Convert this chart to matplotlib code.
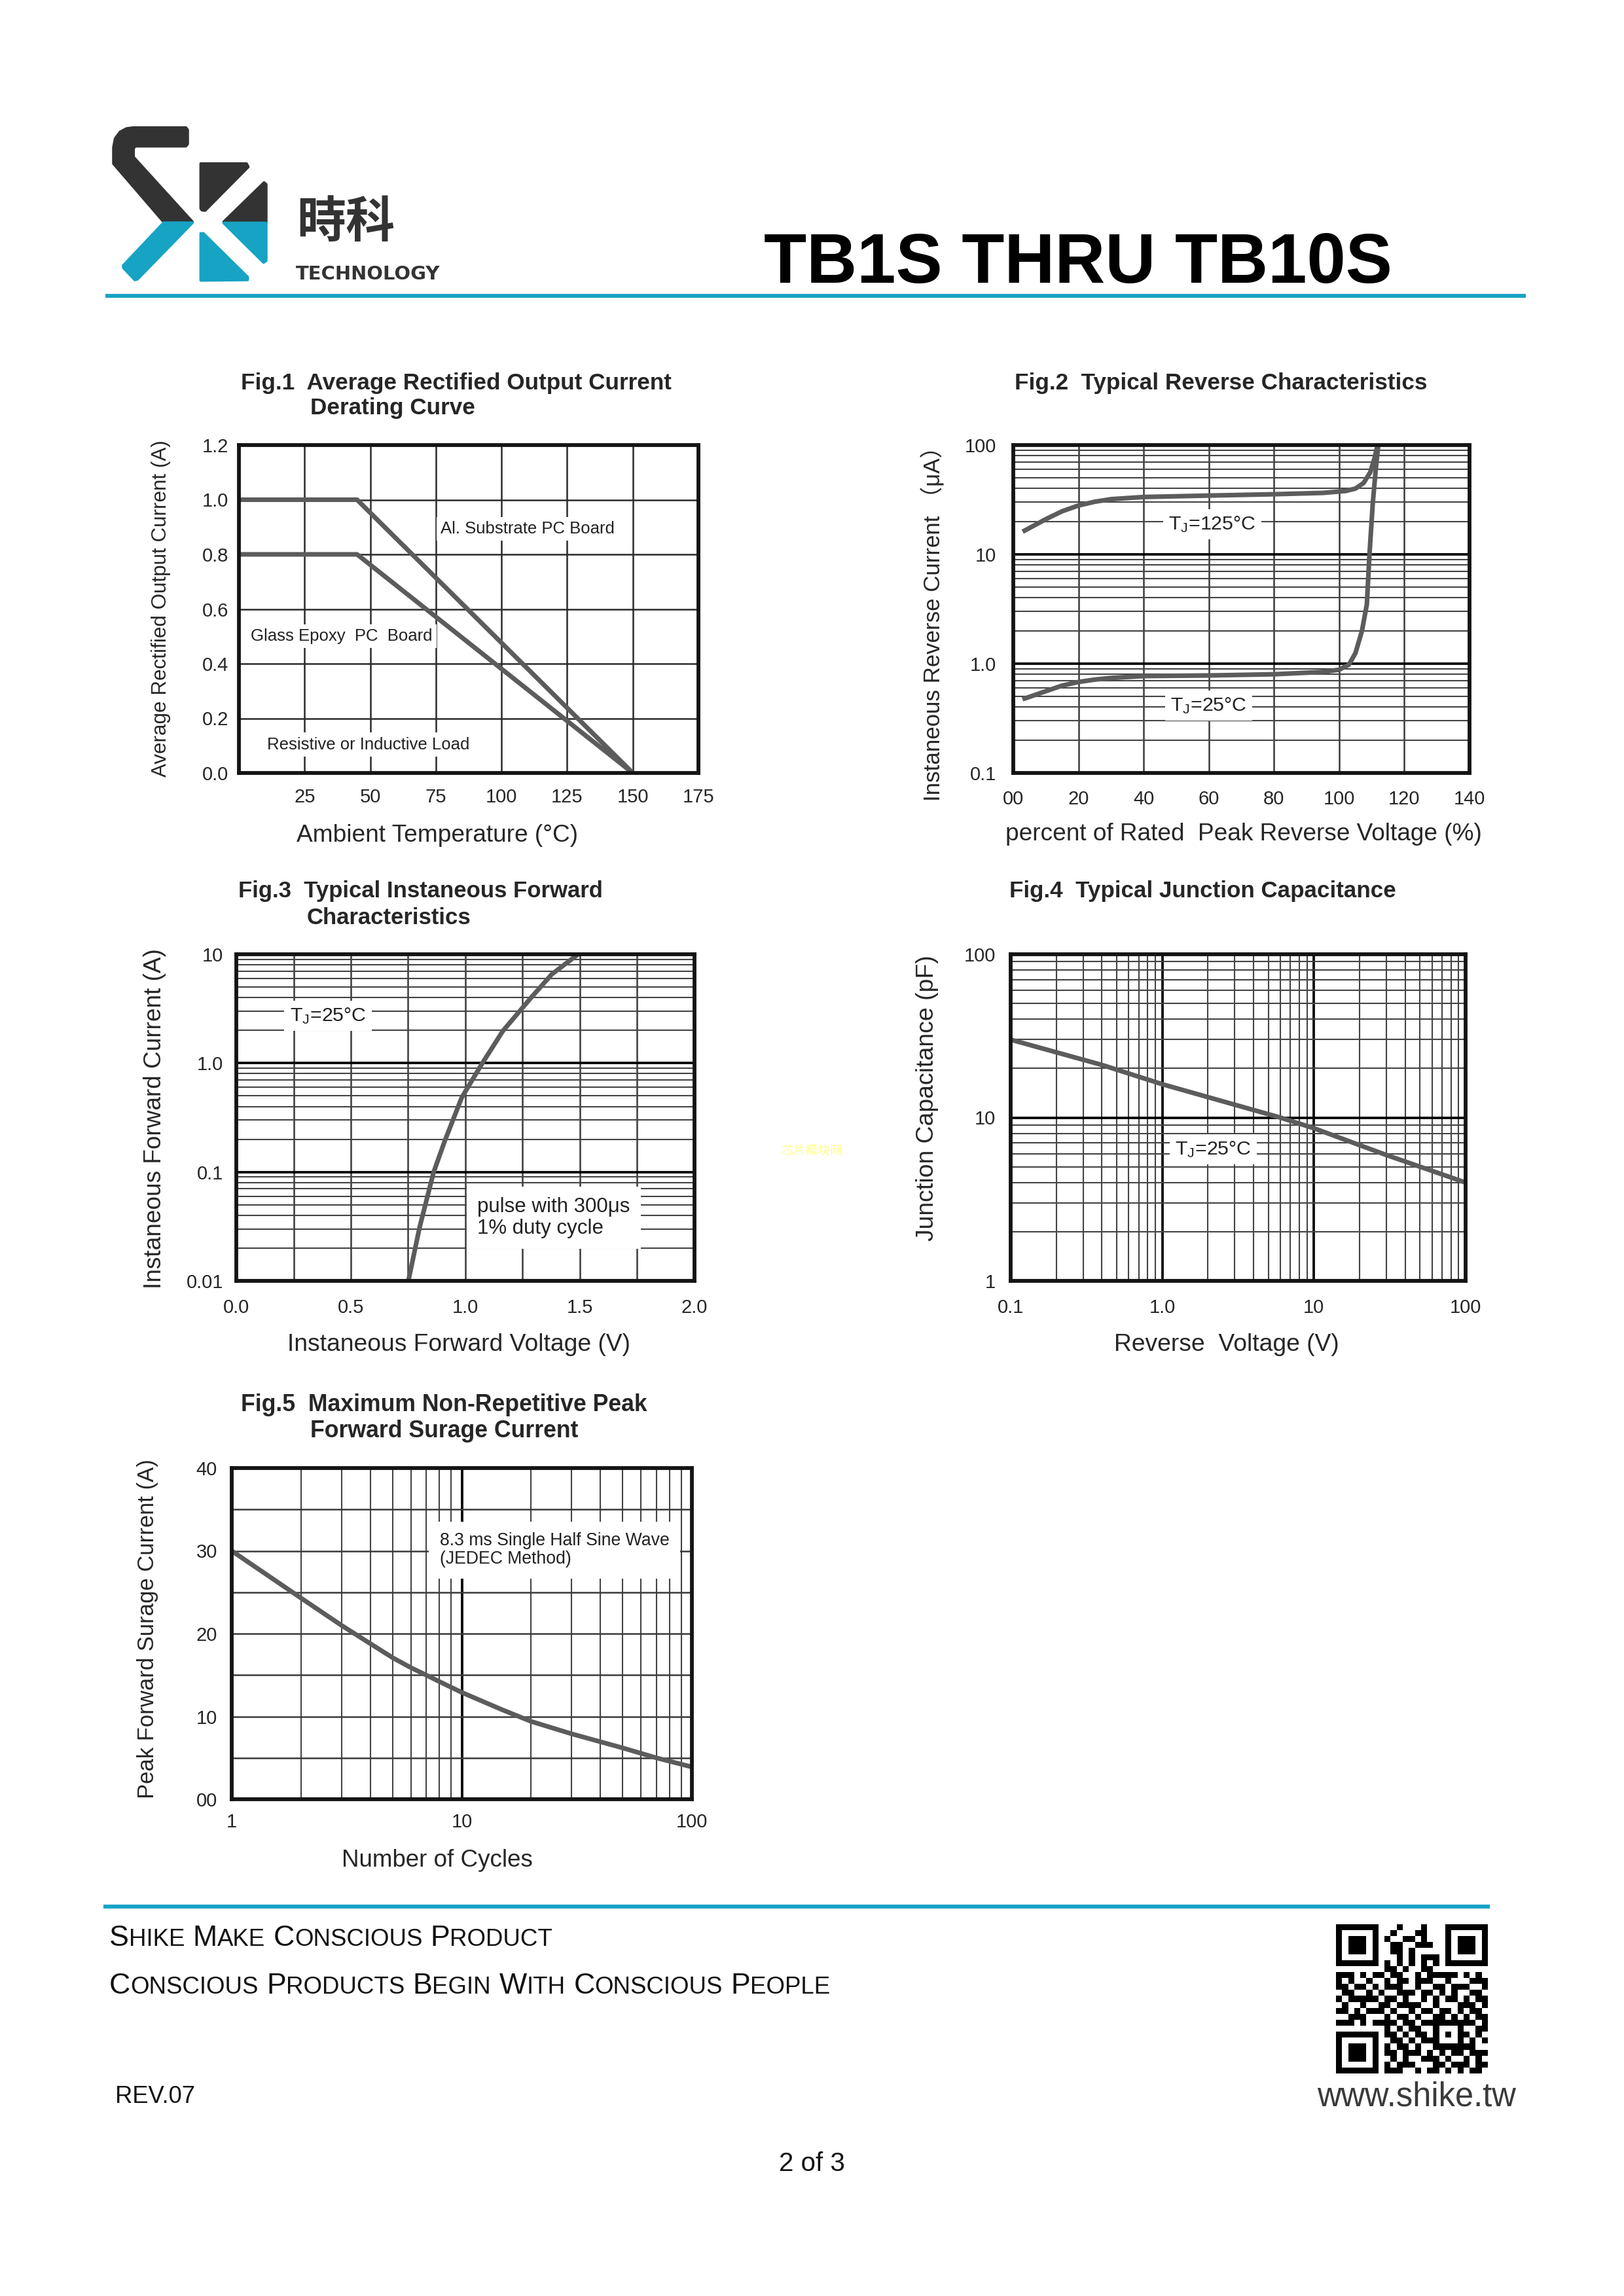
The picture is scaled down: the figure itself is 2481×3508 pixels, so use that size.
import numpy as np
import matplotlib
matplotlib.use('Agg')
import matplotlib.pyplot as plt
from matplotlib.patches import Polygon
from matplotlib.lines import Line2D
from matplotlib.ticker import LogLocator, NullFormatter, FixedLocator

# ---------------- data ----------------
# Fig.1 derating curve (ambient temperature degC -> average current A)
fig1_temp = [0, 45, 150]
fig1_al_board = [1.0, 1.0, 0.0]
fig1_glass_board = [0.8, 0.8, 0.0]
fig1_xticks = [25, 50, 75, 100, 125, 150, 175]
fig1_yticks = [0.0, 0.2, 0.4, 0.6, 0.8, 1.0, 1.2]

# Fig.2 typical reverse characteristics (% of rated voltage -> uA)
fig2_pct_125 = [3.5, 10, 15, 20, 25, 30, 40, 60, 80, 95, 102, 105, 107.5, 109.5, 110.8, 111.8]
fig2_ir_125 = [16.5, 21, 24.8, 28, 30.3, 32, 33.5, 34.5, 35.5, 36.5, 38, 40, 45, 56, 75, 100]
fig2_pct_25 = [3.5, 10, 15, 20, 25, 30, 40, 60, 80, 95, 100, 103, 105, 107, 108.5, 109.3, 110.3, 111.2, 112]
fig2_ir_25 = [0.48, 0.56, 0.63, 0.68, 0.715, 0.74, 0.77, 0.78, 0.80, 0.84, 0.88, 0.98, 1.25, 2.0, 3.5, 10, 29, 59, 100]
fig2_xticks = [0, 20, 40, 60, 80, 100, 120, 140]
fig2_xlabels = ['00', '20', '40', '60', '80', '100', '120', '140']
fig2_yticks = [0.1, 1, 10, 100]
fig2_ylabels = ['0.1', '1.0', '10', '100']

# Fig.3 forward characteristics (V -> A)
fig3_vf = [0.751, 0.80, 0.861, 0.910, 0.984, 1.074, 1.164, 1.287, 1.377, 1.492]
fig3_if = [0.01, 0.031, 0.099, 0.193, 0.483, 1.0, 1.98, 4.0, 6.55, 10]
fig3_xticks = [0.0, 0.5, 1.0, 1.5, 2.0]
fig3_xlabels = ['0.0', '0.5', '1.0', '1.5', '2.0']
fig3_yticks = [0.01, 0.1, 1, 10]
fig3_ylabels = ['0.01', '0.1', '1.0', '10']

# Fig.4 junction capacitance (V -> pF)
fig4_vr = [0.1, 0.4, 1, 6, 10, 30, 100]
fig4_cj = [30, 21, 16, 10, 8.6, 5.9, 4.0]
fig4_xticks = [0.1, 1, 10, 100]
fig4_xlabels = ['0.1', '1.0', '10', '100']
fig4_yticks = [1, 10, 100]
fig4_ylabels = ['1', '10', '100']

# Fig.5 peak forward surge current (cycles -> A)
fig5_cycles = [1, 2, 3, 4, 5, 6, 7, 8, 10, 15, 20, 30, 50, 70, 100]
fig5_ifsm = [30, 24.3, 21.0, 18.8, 17.1, 15.9, 15.0, 14.2, 12.9, 10.8, 9.4, 7.9, 6.2, 5.0, 3.9]
fig5_xticks = [1, 10, 100]
fig5_xlabels = ['1', '10', '100']
fig5_yticks = [0, 10, 20, 30, 40]
fig5_ylabels = ['00', '10', '20', '30', '40']

# QR code modules (hand copied, structure patterns stamped below)
qr_rows = [
    "0000000000100010000000000",
    "0000000001000110000000000",
    "0000000010011010000000000",
    "0000000001100111000000000",
    "0000000001101000000000000",
    "0000000000101011100000000",
    "0000000000000000000000000",
    "0000000011010011000000000",
    "1110101101100101111101010",
    "1010011010110111001000111",
    "1101101011100100110111001",
    "0110010100111011010100110",
    "1011111011010010101101011",
    "0100100110111100100011101",
    "1101011101001011011010110",
    "0011100010110100110101011",
    "1110101111011011001011101",
    "0000000010101100111110011",
    "0000000011010110101011010",
    "0000000001101011100010101",
    "0000000010110100111101100",
    "0000000011011101010110111",
    "0000000001010011101001010",
    "0000000010111000110111011",
    "0000000011100101101010110",
]

# ---------------- page setup ----------------
W, H = 2481, 3508
plt.rcParams['font.family'] = ['Liberation Sans', 'DejaVu Sans']
plt.rcParams['mathtext.fontset'] = 'custom'
plt.rcParams['mathtext.rm'] = 'Liberation Sans'
plt.rcParams['text.color'] = '#222222'

fig = plt.figure(figsize=(W / 300, H / 300), dpi=300)
R = fig.canvas.get_renderer()

BLUE = '#17a3c4'
DARK = '#333333'
CURVE = '#5c5c5c'
CJK = ['Noto Sans CJK TC', 'DejaVu Sans']


def rect(x0, y0, x1, y1):
    return [x0 / W, 1 - y1 / H, (x1 - x0) / W, (y1 - y0) / H]


def put(x, y, s, width=None, **kw):
    t = fig.text(x / W, 1 - y / H, s, **kw)
    if width:
        bb = t.get_window_extent(R)
        t.set_fontsize(t.get_fontsize() * width / max(bb.width, bb.height))
    return t


def hline(x0, x1, y, **kw):
    fig.add_artist(Line2D([x0 / W, x1 / W], [1 - y / H] * 2, transform=fig.transFigure, **kw))


def small_caps(x, y, s, big, small):
    for word in s.split():
        for part, size in ((word[0], big), (word[1:], small)):
            if not part:
                continue
            t = fig.text(x / W, 1 - y / H, part, fontsize=size, va='baseline', color='#111111')
            x += t.get_window_extent(R).width
        x += 0.278 * big * 300 / 72


# ---------------- header ----------------
logo = fig.add_axes(rect(160, 185, 430, 445))
logo.set_xlim(0, 810)
logo.set_ylim(780, 0)
logo.axis('off')
shapes = [
    ([(130, 30), (372, 30), (380, 40), (380, 105), (372, 115), (140, 115), (132, 125), (132, 165),
      (402, 462), (270, 462), (40, 195), (40, 120), (48, 80), (70, 50), (100, 34)], DARK),
    ([(270, 466), (402, 466), (150, 725), (138, 728), (85, 672), (85, 662)], BLUE),
    ([(440, 195), (650, 195), (658, 210), (460, 410), (445, 408), (440, 400)], DARK),
    ([(545, 462), (730, 282), (740, 290), (740, 462)], DARK),
    ([(545, 467), (740, 467), (740, 640), (728, 648)], BLUE),
    ([(440, 515), (452, 515), (655, 715), (655, 728), (440, 730)], BLUE),
]
for pts, c in shapes:
    logo.add_patch(Polygon(pts, closed=True, fc=c, ec=c, lw=1, joinstyle='round'))

put(528, 340, '時科', width=150, family=CJK, weight='bold', color=DARK, ha='center', va='center')
put(562, 419, 'TECHNOLOGY', width=221, family=['DejaVu Sans'], weight='bold', color=DARK,
    ha='center', va='center', fontsize=6)
put(1167, 432, 'TB1S THRU TB10S', width=961, weight='bold', color='black', fontsize=26, va='baseline')
hline(164, 2328, 452, color=BLUE, lw=1.45)


# ---------------- charts ----------------
def make_axes(box):
    ax = fig.add_axes(rect(*box))
    for s in ax.spines.values():
        s.set_linewidth(1.4)
        s.set_color('#141414')
        s.set_zorder(4)
    ax.tick_params(which='both', length=0, labelsize=7, colors='#262626')
    return ax


def log_minor(axis):
    axis.set_minor_locator(LogLocator(base=10, subs=np.arange(2, 10), numticks=30))
    axis.set_minor_formatter(NullFormatter())


box = dict(fc='white', ec='none')

# Fig.1
ax1 = make_axes((365, 680, 1067, 1181))
ax1.plot(fig1_temp, fig1_al_board, color=CURVE, lw=1.7)
ax1.plot(fig1_temp, fig1_glass_board, color=CURVE, lw=1.7)
ax1.set_xlim(0, 175)
ax1.set_ylim(0, 1.2)
ax1.set_xticks(fig1_xticks)
ax1.set_yticks(fig1_yticks)
ax1.set_yticklabels([f'{v:.1f}' for v in fig1_yticks])
ax1.grid(True, color='#2a2a2a', lw=0.6)
ax1.tick_params(axis='x', pad=5.5)
ax1.tick_params(axis='y', pad=3.8)
ax1.text(110, 0.894, 'Al. Substrate PC Board', fontsize=6.2, ha='center', va='center',
         bbox=dict(box, pad=1.5))
ax1.text(4.6, 0.5, 'Glass Epoxy  PC  Board', fontsize=6.2, ha='left', va='center',
         bbox=dict(box, pad=1.5))
ax1.text(10.8, 0.104, 'Resistive or Inductive Load', fontsize=6.2, ha='left', va='center',
         bbox=dict(box, pad=1.5))

# Fig.2
ax2 = make_axes((1548, 680, 2245, 1181))
ax2.set_yscale('log')
ax2.plot(fig2_pct_125, fig2_ir_125, color=CURVE, lw=1.7)
ax2.plot(fig2_pct_25, fig2_ir_25, color=CURVE, lw=1.7)
ax2.set_xlim(0, 140)
ax2.set_ylim(0.1, 100)
ax2.set_xticks(fig2_xticks)
ax2.set_xticklabels(fig2_xlabels)
ax2.set_yticks(fig2_yticks)
ax2.set_yticklabels(fig2_ylabels)
log_minor(ax2.yaxis)
ax2.grid(which='major', axis='x', color='#3a3a3a', lw=0.6)
ax2.grid(which='major', axis='y', color='#000000', lw=0.9)
ax2.grid(which='minor', axis='y', color='#444444', lw=0.5)
ax2.tick_params(axis='x', pad=6.2)
ax2.tick_params(axis='y', pad=6.2)
ax2.text(61, 18.9, r'$\mathregular{T_J}$=125°C', fontsize=7.3, ha='center', va='center',
         bbox=dict(box, pad=2))
ax2.text(60, 0.414, r'$\mathregular{T_J}$=25°C', fontsize=7.3, ha='center', va='center',
         bbox=dict(box, pad=2))

# Fig.3
ax3 = make_axes((361, 1458, 1061, 1957))
ax3.set_yscale('log')
ax3.plot(fig3_vf, fig3_if, color=CURVE, lw=1.7)
ax3.set_xlim(0, 2.0)
ax3.set_ylim(0.01, 10)
ax3.set_xticks(fig3_xticks)
ax3.set_xticklabels(fig3_xlabels)
ax3.xaxis.set_minor_locator(FixedLocator([0.25, 0.75, 1.25, 1.75]))
ax3.set_yticks(fig3_yticks)
ax3.set_yticklabels(fig3_ylabels)
log_minor(ax3.yaxis)
ax3.grid(which='both', axis='x', color='#3a3a3a', lw=0.6)
ax3.grid(which='major', axis='y', color='#000000', lw=0.9)
ax3.grid(which='minor', axis='y', color='#444444', lw=0.5)
ax3.tick_params(axis='x', pad=6.5)
ax3.tick_params(axis='y', pad=4.8)
ax3.text(0.40, 2.71, r'$\mathregular{T_J}$=25°C', fontsize=7.3, ha='center', va='center',
         bbox=dict(box, pad=2))
ax3.text(1.052, 0.038, 'pulse with 300μs\n1% duty cycle', fontsize=7.5, ha='left', va='center',
         linespacing=1.1, bbox=dict(box, pad=4))

# Fig.4
ax4 = make_axes((1544, 1458, 2239, 1957))
ax4.set_xscale('log')
ax4.set_yscale('log')
ax4.plot(fig4_vr, fig4_cj, color=CURVE, lw=1.7)
ax4.set_xlim(0.1, 100)
ax4.set_ylim(1, 100)
ax4.set_xticks(fig4_xticks)
ax4.set_xticklabels(fig4_xlabels)
ax4.set_yticks(fig4_yticks)
ax4.set_yticklabels(fig4_ylabels)
log_minor(ax4.xaxis)
log_minor(ax4.yaxis)
ax4.grid(which='major', color='#000000', lw=0.9)
ax4.grid(which='minor', color='#444444', lw=0.5)
ax4.tick_params(axis='x', pad=6.5)
ax4.tick_params(axis='y', pad=5.5)
ax4.text(2.17, 6.4, r'$\mathregular{T_J}$=25°C', fontsize=7.3, ha='center', va='center',
         bbox=dict(box, pad=2))

# Fig.5
ax5 = make_axes((354, 2243, 1057, 2749))
ax5.set_xscale('log')
ax5.plot(fig5_cycles, fig5_ifsm, color=CURVE, lw=1.7)
ax5.set_xlim(1, 100)
ax5.set_ylim(0, 40)
ax5.set_xticks(fig5_xticks)
ax5.set_xticklabels(fig5_xlabels)
ax5.set_yticks(fig5_yticks)
ax5.set_yticklabels(fig5_ylabels)
log_minor(ax5.xaxis)
ax5.yaxis.set_minor_locator(FixedLocator([5, 15, 25, 35]))
ax5.grid(which='major', axis='x', color='#000000', lw=0.9)
ax5.grid(which='minor', axis='x', color='#444444', lw=0.5)
ax5.grid(which='both', axis='y', color='#3a3a3a', lw=0.6)
ax5.tick_params(axis='x', pad=5)
ax5.tick_params(axis='y', pad=5.3)
ax5.text(8.03, 30.1, '8.3 ms Single Half Sine Wave\n(JEDEC Method)', fontsize=6.4, ha='left',
         va='center', linespacing=1.1, bbox=dict(box, pad=4))

# titles
title_kw = dict(weight='bold', color='#262626', va='center', ha='left', fontsize=8)
t = put(368, 585, 'Fig.1  Average Rectified Output Current', width=659, **title_kw)
put(474, 624, 'Derating Curve', **dict(title_kw, fontsize=t.get_fontsize()))
put(1550, 585, 'Fig.2  Typical Reverse Characteristics', width=631, **title_kw)
t = put(364, 1361, 'Fig.3  Typical Instaneous Forward', width=560, **title_kw)
put(469, 1402, 'Characteristics', **dict(title_kw, fontsize=t.get_fontsize()))
put(1542, 1361, 'Fig.4  Typical Junction Capacitance', width=592, **title_kw)
t = put(368, 2146, 'Fig.5  Maximum Non-Repetitive Peak', width=624, **title_kw)
put(474, 2186, 'Forward Surage Current', **dict(title_kw, fontsize=t.get_fontsize()))

# axis labels
lab_kw = dict(color='#262626', ha='center', va='center', fontsize=8)
put(246, 930, 'Average Rectified Output Current (A)', width=515, rotation=90, **lab_kw)
put(1425, 944, 'Instaneous Reverse Current （μA）', width=559, rotation=90,
    family=['Liberation Sans', 'Noto Sans CJK SC'], **lab_kw)
put(237, 1709, 'Instaneous Forward Current (A)', width=522, rotation=90, **lab_kw)
put(1416, 1678, 'Junction Capacitance (pF)', width=437, rotation=90, **lab_kw)
put(226, 2489, 'Peak Forward Surage Current (A)', width=518, rotation=90, **lab_kw)
put(668, 1277, 'Ambient Temperature (°C)', width=430, **lab_kw)
put(1900, 1275, 'percent of Rated  Peak Reverse Voltage (%)', width=729, **lab_kw)
put(701, 2055, 'Instaneous Forward Voltage (V)', width=525, **lab_kw)
put(1874, 2055, 'Reverse  Voltage (V)', width=344, **lab_kw)
put(668, 2842, 'Number of Cycles', width=293, **lab_kw)

# faint watermark
put(1240, 1758, '芯片模块网', width=94, family=['Noto Sans CJK SC'], color='#ffff8a',
    ha='center', va='center', fontsize=5)

# ---------------- footer ----------------
hline(161, 2273, 2913, color=BLUE, lw=1.45)
small_caps(167, 2973, 'SHIKE MAKE CONSCIOUS PRODUCT', 10.75, 8.8)
small_caps(167, 3046, 'CONSCIOUS PRODUCTS BEGIN WITH CONSCIOUS PEOPLE', 10.75, 8.8)
put(176, 3213, 'REV.07', width=122, fontsize=8.4, va='baseline', color='#111111')
put(2012, 3217, 'www.shike.tw', width=304, fontsize=11.5, va='baseline', color='#3a3a3a')
put(1240, 3317, '2 of 3', width=101, fontsize=9, va='baseline', ha='center', color='#111111')

qr = np.array([[int(c) for c in row] for row in qr_rows])
for r0, c0 in ((0, 0), (0, 18), (18, 0)):
    qr[max(r0 - 1, 0):r0 + 8, max(c0 - 1, 0):c0 + 8] = 0
    qr[r0:r0 + 7, c0:c0 + 7] = 1
    qr[r0 + 1:r0 + 6, c0 + 1:c0 + 6] = 0
    qr[r0 + 2:r0 + 5, c0 + 2:c0 + 5] = 1
qr[6, 8:17] = [1, 0, 1, 0, 1, 0, 1, 0, 1]
qr[8:17, 6] = [1, 0, 1, 0, 1, 0, 1, 0, 1]
qr[16:21, 16:21] = 1
qr[17:20, 17:20] = 0
qr[18, 18] = 1
qr[17, 8] = 1
qax = fig.add_axes(rect(2041, 2940, 2273, 3168))
qax.imshow(qr, cmap='gray_r', interpolation='nearest', aspect='auto', vmin=0, vmax=1)
qax.axis('off')

fig.savefig('out.png', dpi=300, facecolor='white')
